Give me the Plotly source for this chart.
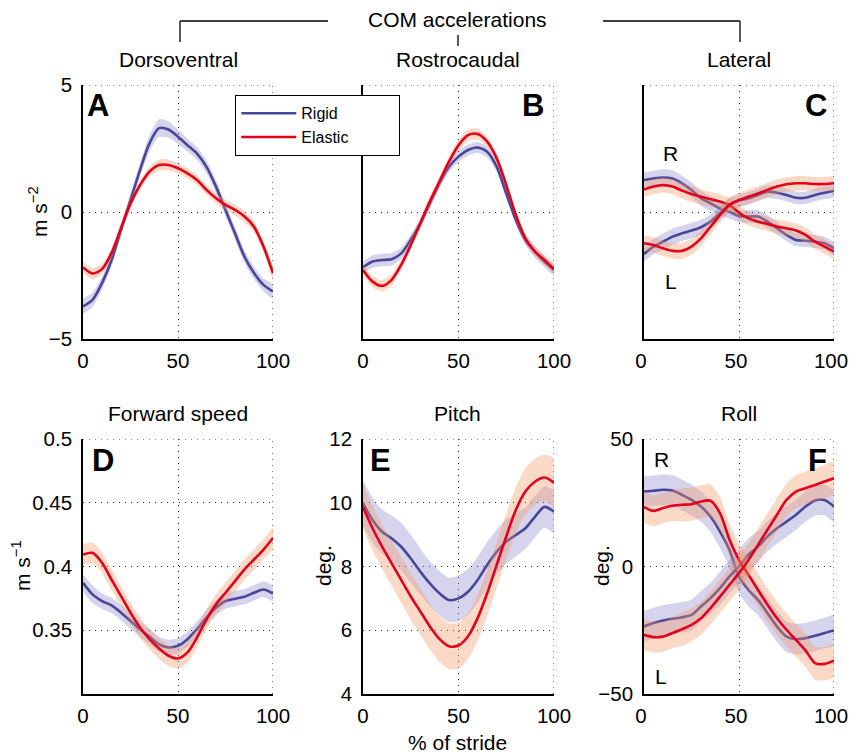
import plotly.graph_objects as go

W, H = 849, 753

# ---------------- data ----------------
stride = [0, 5, 10, 15, 20, 25, 30, 35, 40, 45, 50, 55, 60, 65, 70, 75, 80, 85, 90, 95, 100]

# A  Dorsoventral acceleration (m s^-2)
A_rigid   = [-3.72, -3.46, -2.80, -1.90, -0.70, 0.47, 1.65, 2.70, 3.30, 3.25, 2.96, 2.63, 2.30, 1.78, 1.00, 0.08, -0.84, -1.76, -2.40, -2.87, -3.13]
A_rigid_sd = [0.30, 0.28, 0.25, 0.25, 0.25, 0.25, 0.28, 0.32, 0.35, 0.32, 0.28, 0.25, 0.25, 0.25, 0.25, 0.25, 0.25, 0.25, 0.25, 0.25, 0.28]
A_elastic = [-2.18, -2.42, -2.25, -1.62, -0.64, 0.34, 1.06, 1.59, 1.85, 1.85, 1.72, 1.52, 1.26, 0.87, 0.54, 0.28, 0.08, -0.18, -0.58, -1.36, -2.41]
A_elastic_sd = [0.22, 0.22, 0.20, 0.20, 0.20, 0.20, 0.20, 0.20, 0.22, 0.22, 0.20, 0.20, 0.20, 0.20, 0.20, 0.20, 0.22, 0.22, 0.22, 0.22, 0.25]

# B  Rostrocaudal acceleration
B_rigid   = [-2.18, -1.95, -1.89, -1.86, -1.63, -1.10, -0.45, 0.34, 1.13, 1.78, 2.18, 2.44, 2.54, 2.37, 1.78, 0.73, -0.31, -1.10, -1.56, -1.95, -2.28]
B_rigid_sd = [0.22, 0.25, 0.25, 0.25, 0.22, 0.20, 0.20, 0.20, 0.20, 0.22, 0.22, 0.22, 0.22, 0.22, 0.20, 0.20, 0.20, 0.22, 0.22, 0.22, 0.22]
B_elastic = [-2.28, -2.74, -2.91, -2.67, -2.08, -1.30, -0.45, 0.41, 1.19, 1.98, 2.63, 3.03, 3.07, 2.77, 2.11, 1.06, -0.12, -1.04, -1.56, -1.89, -2.25]
B_elastic_sd = [0.20, 0.22, 0.22, 0.22, 0.20, 0.20, 0.20, 0.20, 0.20, 0.20, 0.22, 0.22, 0.22, 0.20, 0.20, 0.20, 0.20, 0.20, 0.20, 0.20, 0.20]

# C  Lateral acceleration (R and L)
C_R_rigid   = [1.26, 1.32, 1.36, 1.32, 1.13, 0.87, 0.54, 0.34, 0.14, 0.01, -0.16, -0.18, -0.18, -0.38, -0.64, -0.90, -1.10, -1.13, -1.17, -1.23, -1.43]
C_R_elastic = [0.89, 1.00, 1.06, 1.00, 0.84, 0.71, 0.60, 0.50, 0.41, 0.28, -0.03, -0.25, -0.38, -0.47, -0.58, -0.64, -0.73, -0.90, -1.17, -1.36, -1.56]
C_L_rigid   = [-1.65, -1.36, -1.17, -0.97, -0.84, -0.73, -0.60, -0.38, -0.05, 0.28, 0.45, 0.54, 0.67, 0.80, 0.76, 0.67, 0.56, 0.56, 0.67, 0.76, 0.83]
C_L_elastic = [-1.23, -1.30, -1.43, -1.53, -1.53, -1.36, -1.04, -0.58, -0.12, 0.28, 0.47, 0.60, 0.73, 0.87, 1.00, 1.09, 1.13, 1.13, 1.10, 1.10, 1.13]
C_rigid_sd   = [0.30, 0.30, 0.32, 0.32, 0.30, 0.30, 0.30, 0.28, 0.28, 0.28, 0.25, 0.25, 0.25, 0.25, 0.25, 0.25, 0.25, 0.25, 0.25, 0.25, 0.25]
C_elastic_sd = [0.30, 0.30, 0.30, 0.30, 0.32, 0.32, 0.30, 0.30, 0.28, 0.28, 0.28, 0.28, 0.28, 0.28, 0.28, 0.28, 0.28, 0.28, 0.28, 0.28, 0.28]

# D  Forward speed (m s^-1)
D_rigid   = [0.3872, 0.3781, 0.3729, 0.3695, 0.3638, 0.3573, 0.3508, 0.3450, 0.3390, 0.3365, 0.3378, 0.3430, 0.3508, 0.3599, 0.3677, 0.3729, 0.3747, 0.3763, 0.3794, 0.3820, 0.3789]
D_rigid_sd = [0.007, 0.007, 0.006, 0.006, 0.006, 0.006, 0.006, 0.006, 0.006, 0.006, 0.006, 0.006, 0.006, 0.006, 0.006, 0.006, 0.006, 0.006, 0.006, 0.006, 0.006]
D_elastic = [0.4094, 0.4107, 0.4029, 0.3898, 0.3768, 0.3638, 0.3521, 0.3430, 0.3357, 0.3300, 0.3279, 0.3326, 0.3443, 0.3586, 0.3703, 0.3794, 0.3885, 0.3977, 0.4055, 0.4133, 0.4224]
D_elastic_sd = [0.008, 0.008, 0.008, 0.008, 0.008, 0.008, 0.008, 0.008, 0.008, 0.008, 0.008, 0.008, 0.008, 0.008, 0.008, 0.008, 0.008, 0.008, 0.008, 0.008, 0.008]

# E  Pitch (deg.)
E_rigid   = [9.98, 9.46, 9.09, 8.88, 8.62, 8.25, 7.84, 7.47, 7.16, 6.95, 7.00, 7.21, 7.58, 8.05, 8.46, 8.78, 8.99, 9.20, 9.56, 9.87, 9.72]
E_rigid_sd = [0.72, 0.70, 0.70, 0.72, 0.75, 0.75, 0.72, 0.70, 0.70, 0.70, 0.72, 0.72, 0.72, 0.72, 0.70, 0.70, 0.68, 0.65, 0.65, 0.65, 0.65]
E_elastic = [9.87, 9.20, 8.62, 8.10, 7.58, 7.06, 6.59, 6.12, 5.73, 5.50, 5.52, 5.81, 6.38, 7.16, 8.05, 8.94, 9.77, 10.35, 10.66, 10.79, 10.63]
E_elastic_sd = [0.70, 0.70, 0.70, 0.70, 0.72, 0.72, 0.72, 0.72, 0.72, 0.72, 0.72, 0.72, 0.72, 0.72, 0.72, 0.72, 0.72, 0.72, 0.72, 0.72, 0.75]

# F  Roll (deg.)
F_R_rigid   = [29.4, 29.7, 30.1, 29.8, 28.1, 26.1, 23.5, 19.6, 13.7, 6.5, -3.9, -9.2, -13.1, -18.3, -23.5, -27.5, -28.5, -28.1, -27.2, -26.1, -25.1]
F_R_elastic = [23.3, 21.8, 22.9, 23.8, 24.2, 24.4, 25.5, 25.8, 20.9, 10.5, 2.6, -3.3, -9.2, -15.0, -20.3, -24.8, -28.8, -32.9, -37.9, -38.2, -36.9]
F_L_rigid   = [-23.5, -22.2, -21.2, -20.5, -19.9, -19.0, -15.7, -12.4, -8.5, -3.9, 0.0, 4.6, 7.8, 11.8, 15.0, 17.6, 20.3, 23.5, 25.9, 26.1, 23.5]
F_L_elastic = [-26.8, -27.7, -27.5, -26.1, -24.6, -22.9, -20.3, -16.3, -11.8, -7.2, -2.6, 2.6, 8.5, 14.4, 20.3, 26.1, 29.4, 30.7, 32.0, 33.3, 34.6]
F_rigid_sd   = [6.0, 6.0, 6.0, 6.0, 6.0, 6.0, 6.0, 6.0, 6.5, 6.5, 6.5, 6.5, 6.0, 6.0, 6.0, 6.0, 6.0, 6.0, 6.0, 6.0, 6.0]
F_elastic_sd = [6.0, 6.0, 6.0, 6.0, 6.5, 6.5, 6.5, 6.5, 6.5, 6.5, 6.5, 6.5, 6.5, 6.5, 6.5, 6.5, 6.5, 6.5, 6.5, 6.5, 6.5]

series_names = ["Rigid", "Elastic"]
top_titles = ["Dorsoventral", "Rostrocaudal", "Lateral"]
bottom_titles = ["Forward speed", "Pitch", "Roll"]
panel_letters = ["A", "B", "C", "D", "E", "F"]
x_ticks = [0, 50, 100]
y_ticks = [[-5, 0, 5], [-5, 0, 5], [-5, 0, 5], [0.35, 0.4, 0.45, 0.5], [4, 6, 8, 10, 12], [-50, 0, 50]]
y_ticktext = [["−5", "0", "5"], None, None, ["0.35", "0.4", "0.45", "0.5"], ["4", "6", "8", "10", "12"], ["−50", "0", "50"]]
y_ranges = [[-5, 5], [-5, 5], [-5, 5], [0.3, 0.5], [4, 12], [-50, 50]]

# ---------------- styling ----------------
FONT = "Liberation Sans, Arial, Helvetica, sans-serif"
BLUE = "rgb(72,70,152)"
RED = "rgb(228,0,28)"
BLUE_BAND = "rgba(120,110,195,0.30)"
RED_BAND = "rgba(245,150,100,0.36)"
GRID_DASH = "1px,5px"

# panel boxes in pixels (left, right, top, bottom)
boxes = [(83, 273, 85, 339), (363, 554, 85, 339), (644, 834, 85, 339),
         (83, 273, 439, 694), (363, 554, 439, 694), (644, 834, 439, 694)]
x_label_shift = [0, 0, -3, 0, 0, -3]


def pxx(v):
    return v / W


def pxy(v):
    return 1 - v / H


fig = go.Figure()


def axnames(i):
    return ("x" if i == 0 else f"x{i+1}", "y" if i == 0 else f"y{i+1}")


def add_series(i, mean, sd, color, band, name=None, showlegend=False):
    xa, ya = axnames(i)
    upper = [m + s for m, s in zip(mean, sd)]
    lower = [m - s for m, s in zip(mean, sd)]
    fig.add_trace(go.Scatter(x=stride + stride[::-1], y=upper + lower[::-1], fill="toself",
                             fillcolor=band, mode="lines", line=dict(width=0, shape="spline", smoothing=0.6),
                             hoverinfo="skip", showlegend=False, xaxis=xa, yaxis=ya))
    fig.add_trace(go.Scatter(x=stride, y=mean, mode="lines", name=name,
                             line=dict(color=color, width=2.6, shape="spline", smoothing=0.8),
                             showlegend=showlegend, xaxis=xa, yaxis=ya, legendgroup=name))


add_series(0, A_rigid, A_rigid_sd, BLUE, BLUE_BAND, series_names[0] + "&nbsp;" * 10, True)
add_series(0, A_elastic, A_elastic_sd, RED, RED_BAND, series_names[1] + "&nbsp;" * 10, True)
add_series(1, B_rigid, B_rigid_sd, BLUE, BLUE_BAND)
add_series(1, B_elastic, B_elastic_sd, RED, RED_BAND)
add_series(2, C_R_rigid, C_rigid_sd, BLUE, BLUE_BAND)
add_series(2, C_L_rigid, C_rigid_sd, BLUE, BLUE_BAND)
add_series(2, C_R_elastic, C_elastic_sd, RED, RED_BAND)
add_series(2, C_L_elastic, C_elastic_sd, RED, RED_BAND)
add_series(3, D_rigid, D_rigid_sd, BLUE, BLUE_BAND)
add_series(3, D_elastic, D_elastic_sd, RED, RED_BAND)
add_series(4, E_rigid, E_rigid_sd, BLUE, BLUE_BAND)
add_series(4, E_elastic, E_elastic_sd, RED, RED_BAND)
add_series(5, F_R_rigid, F_rigid_sd, BLUE, BLUE_BAND)
add_series(5, F_L_rigid, F_rigid_sd, BLUE, BLUE_BAND)
add_series(5, F_R_elastic, F_elastic_sd, RED, RED_BAND)
add_series(5, F_L_elastic, F_elastic_sd, RED, RED_BAND)

layout = dict(
    template="none",
    width=W, height=H, margin=dict(l=0, r=0, t=0, b=0, autoexpand=False),
    paper_bgcolor="white", plot_bgcolor="white",
    font=dict(family=FONT, size=21, color="black"),
    showlegend=True,
    legend=dict(x=pxx(235), y=pxy(95), xanchor="left", yanchor="top",
                bgcolor="white", bordercolor="black", borderwidth=1.3,
                font=dict(size=16, family=FONT, color="black"),
                tracegroupgap=0, itemwidth=55),
)

grid_style = dict(showgrid=True, gridcolor="#222", griddash=GRID_DASH, gridwidth=1.2,
                  zeroline=False, showline=True, linecolor="black", linewidth=1.6,
                  ticks="", mirror=False, fixedrange=True, automargin=False,
                  ticklabeloverflow="allow",
                  tickfont=dict(size=20.5, family=FONT, color="black"))

shp = []
for i, (l, r, t, b) in enumerate(boxes):
    xa, ya = axnames(i)
    xkey = "xaxis" if i == 0 else f"xaxis{i+1}"
    ykey = "yaxis" if i == 0 else f"yaxis{i+1}"
    layout[xkey] = dict(domain=[pxx(l), pxx(r)], range=[0, 100], tickvals=x_ticks,
                        anchor=ya, ticklabelstandoff=3, ticklabelshift=x_label_shift[i], **grid_style)
    yd = dict(domain=[pxy(b), pxy(t)], range=y_ranges[i], tickvals=y_ticks[i],
              anchor=xa, ticklabelstandoff=5, **grid_style)
    if y_ticktext[i] is None:
        yd["showticklabels"] = False
    else:
        yd["ticktext"] = y_ticktext[i]
    layout[ykey] = yd
    # plotly drops grid lines at the plot edges; add them for the last ticks
    shp.append(dict(type="line", xref=xa, yref=ya + " domain", x0=x_ticks[-1], x1=x_ticks[-1], y0=0, y1=1,
                    layer="below", line=dict(color="#222", width=1.2, dash=GRID_DASH)))
    shp.append(dict(type="line", xref=xa + " domain", yref=ya, x0=0, x1=1, y0=y_ranges[i][1], y1=y_ranges[i][1],
                    layer="below", line=dict(color="#222", width=1.2, dash=GRID_DASH)))

fig.update_layout(**layout)

# ---------------- texts ----------------
ann = []


def text(xp, yp, s, size=21, bold=False, angle=0):
    ann.append(dict(x=pxx(xp), y=pxy(yp), xref="paper", yref="paper", text=("<b>%s</b>" % s) if bold else s,
                    showarrow=False, xanchor="center", yanchor="middle", textangle=angle,
                    font=dict(size=size, family=FONT, color="black")))


text(458, 20, "COM accelerations")
for s, cx in zip(top_titles, [178, 458, 739]):
    text(cx, 59, s)
for s, cx in zip(bottom_titles, [178, 458, 739]):
    text(cx, 414, s)
text(458, 742, "% of stride")
text(38, 212, "m s<sup>−2</sup>", angle=-90)
text(21, 566, "m s<sup>−1</sup>", angle=-90)
text(323, 566, "deg.", angle=-90)
text(601, 566, "deg.", angle=-90)

for s, (cx, cy) in zip(panel_letters, [(98, 106), (533, 106), (816, 106), (103, 460), (380, 460), (817, 460)]):
    text(cx, cy, s, size=31, bold=True)

# R / L labels in data coordinates
for xa, ya, xv, yv, s in [("x3", "y3", 14, 2.3, "R"), ("x3", "y3", 14, -2.75, "L"),
                          ("x6", "y6", 9, 42, "R"), ("x6", "y6", 9, -43, "L")]:
    ann.append(dict(x=xv, y=yv, xref=xa, yref=ya, text=s, showarrow=False,
                    font=dict(size=21, family=FONT, color="black")))

fig.update_layout(annotations=ann)

# bracket for the header
for (x0, y0, x1, y1) in [(180, 21, 328, 21), (180, 21, 180, 42), (603, 21, 740, 21),
                         (740, 21, 740, 42), (458, 35, 458, 46)]:
    shp.append(dict(type="line", xref="paper", yref="paper", x0=pxx(x0), y0=pxy(y0),
                    x1=pxx(x1), y1=pxy(y1), line=dict(color="black", width=1.3)))
fig.update_layout(shapes=shp)

fig.write_html("out.html")
